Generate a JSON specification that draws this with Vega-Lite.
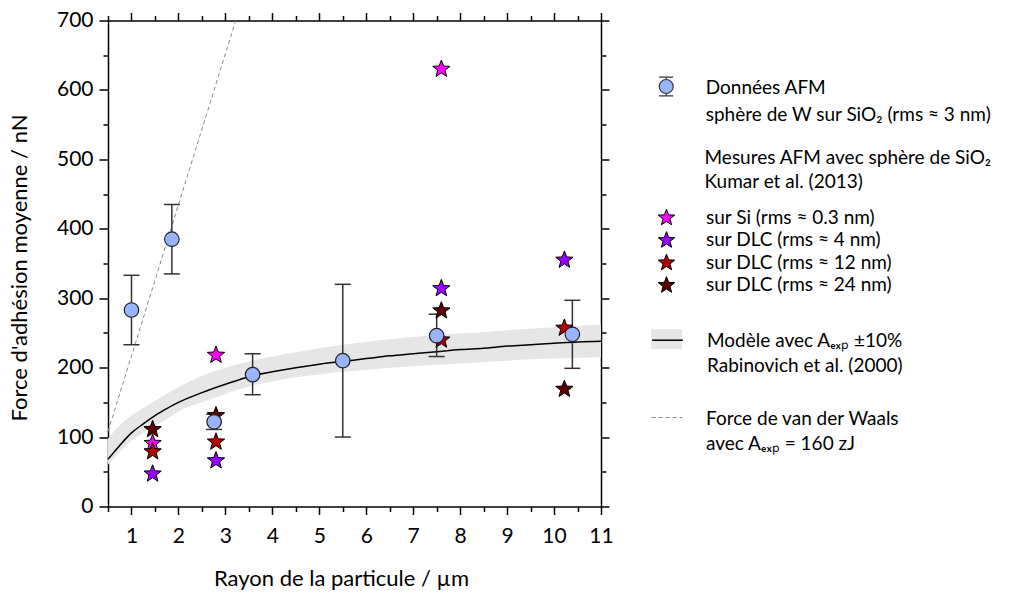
{
  "$schema": "https://vega.github.io/schema/vega-lite/v6.json",
  "width": 493,
  "height": 486,
  "autosize": {"type": "none"},
  "padding": {"left": 108, "top": 20.5, "right": 421, "bottom": 89.5},
  "background": "white",
  "config": {
    "view": {"stroke": null},
    "font": "Lato",
    "axis": {"domainColor": "#000", "domainWidth": 1.5, "tickColor": "#000", "tickWidth": 1.5, "labelFont": "Lato", "labelFontSize": 21, "labelColor": "#000", "titleFont": "Lato", "titleFontSize": 22, "titleFontWeight": "normal", "titleColor": "#000", "grid": false},
    "legend": {"labelFont": "Lato", "labelFontSize": 19, "labelColor": "#000", "titleFont": "Lato", "titleFontSize": 19, "titleFontWeight": "normal", "titleColor": "#000", "labelLimit": 0, "titleLimit": 0, "padding": 0, "orient": "none", "direction": "vertical"}
  },
  "datasets": {
    "model": [
      {"r": 0.5, "F": 68, "lo": 60, "hi": 98, "series": "model"},
      {"r": 0.75, "F": 88, "lo": 79, "hi": 117, "series": "model"},
      {"r": 1.0, "F": 106, "lo": 95, "hi": 131, "series": "model"},
      {"r": 1.25, "F": 119, "lo": 106, "hi": 142, "series": "model"},
      {"r": 1.5, "F": 131, "lo": 116, "hi": 152, "series": "model"},
      {"r": 1.75, "F": 141, "lo": 126, "hi": 162, "series": "model"},
      {"r": 2.0, "F": 150, "lo": 137, "hi": 172, "series": "model"},
      {"r": 2.5, "F": 164, "lo": 150, "hi": 188, "series": "model"},
      {"r": 3.0, "F": 176, "lo": 162, "hi": 200, "series": "model"},
      {"r": 3.5, "F": 187, "lo": 173, "hi": 209, "series": "model"},
      {"r": 4.0, "F": 194, "lo": 180, "hi": 216, "series": "model"},
      {"r": 4.5, "F": 200, "lo": 186, "hi": 222, "series": "model"},
      {"r": 5.0, "F": 205, "lo": 190, "hi": 228, "series": "model"},
      {"r": 5.5, "F": 209, "lo": 194, "hi": 233, "series": "model"},
      {"r": 6.0, "F": 213, "lo": 197, "hi": 237, "series": "model"},
      {"r": 6.5, "F": 217, "lo": 200, "hi": 241, "series": "model"},
      {"r": 7.0, "F": 220, "lo": 202, "hi": 244, "series": "model"},
      {"r": 7.5, "F": 223, "lo": 204, "hi": 247, "series": "model"},
      {"r": 8.0, "F": 226, "lo": 206, "hi": 249, "series": "model"},
      {"r": 8.5, "F": 228, "lo": 208, "hi": 251, "series": "model"},
      {"r": 9.0, "F": 231, "lo": 210, "hi": 254, "series": "model"},
      {"r": 9.5, "F": 233, "lo": 212, "hi": 256, "series": "model"},
      {"r": 10.0, "F": 235, "lo": 213, "hi": 258, "series": "model"},
      {"r": 10.5, "F": 237, "lo": 214, "hi": 260, "series": "model"},
      {"r": 11.0, "F": 238, "lo": 215, "hi": 262, "series": "model"}
    ],
    "vdw": [
      {"r": 0.5, "F": 108, "series": "vdW"},
      {"r": 3.22, "F": 700, "series": "vdW"}
    ],
    "afm": [
      {"r": 1.0, "F": 283, "lo": 233, "hi": 333, "source": "Données AFM"},
      {"r": 1.86, "F": 385, "lo": 335, "hi": 435, "source": "Données AFM"},
      {"r": 2.76, "F": 122, "lo": 111, "hi": 133, "source": "Données AFM"},
      {"r": 3.58, "F": 190, "lo": 161, "hi": 220, "source": "Données AFM"},
      {"r": 5.5, "F": 210, "lo": 100, "hi": 320, "source": "Données AFM"},
      {"r": 7.5, "F": 246, "lo": 216, "hi": 277, "source": "Données AFM"},
      {"r": 10.39, "F": 248, "lo": 199, "hi": 297, "source": "Données AFM"}
    ],
    "kumar": [
      {"r": 1.45, "F": 91, "surface": "sur Si (rms ≈ 0.3 nm)"},
      {"r": 2.8, "F": 218, "surface": "sur Si (rms ≈ 0.3 nm)"},
      {"r": 7.6, "F": 630, "surface": "sur Si (rms ≈ 0.3 nm)"},
      {"r": 1.45, "F": 47, "surface": "sur DLC (rms ≈ 4 nm)"},
      {"r": 2.8, "F": 66, "surface": "sur DLC (rms ≈ 4 nm)"},
      {"r": 7.6, "F": 314, "surface": "sur DLC (rms ≈ 4 nm)"},
      {"r": 10.22, "F": 355, "surface": "sur DLC (rms ≈ 4 nm)"},
      {"r": 1.45, "F": 79, "surface": "sur DLC (rms ≈ 12 nm)"},
      {"r": 2.8, "F": 93, "surface": "sur DLC (rms ≈ 12 nm)"},
      {"r": 7.6, "F": 240, "surface": "sur DLC (rms ≈ 12 nm)"},
      {"r": 10.22, "F": 257, "surface": "sur DLC (rms ≈ 12 nm)"},
      {"r": 1.45, "F": 111, "surface": "sur DLC (rms ≈ 24 nm)"},
      {"r": 2.8, "F": 131, "surface": "sur DLC (rms ≈ 24 nm)"},
      {"r": 7.6, "F": 282, "surface": "sur DLC (rms ≈ 24 nm)"},
      {"r": 10.22, "F": 169, "surface": "sur DLC (rms ≈ 24 nm)"}
    ]
  },
  "resolve": {
    "scale": {"fill": "independent", "stroke": "independent", "color": "independent"},
    "axis": {"x": "independent", "y": "independent"}
  },
  "layer": [
    {
      "data": {"name": "model"},
      "mark": {"type": "area", "interpolate": "monotone", "opacity": 1},
      "encoding": {
        "x": {"field": "r", "type": "quantitative", "scale": {"domain": [0.5, 11], "nice": false, "zero": false},
          "axis": {"orient": "bottom", "values": [1, 2, 3, 4, 5, 6, 7, 8, 9, 10, 11], "tickSize": 8, "labelPadding": 11, "labelFlush": false, "title": "Rayon de la particule / µm", "titlePadding": 22, "titleX": 233, "titleAlign": "center"}},
        "y": {"field": "lo", "type": "quantitative", "scale": {"domain": [0, 700], "nice": false, "zero": true},
          "axis": {"orient": "left", "values": [0, 100, 200, 300, 400, 500, 600, 700], "tickSize": 9, "labelPadding": 6, "labelFlush": false, "title": "Force d'adhésion moyenne / nN", "titlePadding": 25, "titleY": 247, "titleAlign": "center"}},
        "y2": {"field": "hi"},
        "fill": {"field": "series", "type": "nominal", "scale": {"range": ["#e6e6e6"]},
          "legend": {"legendX": 543, "legendY": 303.2, "title": null, "symbolType": "M-1,-0.65H1V0.65H-1Z", "symbolSize": 942, "symbolStrokeWidth": 0, "labelExpr": "''"}}
      }
    },
    {
      "data": {"name": "model"},
      "mark": {"type": "line", "interpolate": "monotone", "strokeWidth": 1.5},
      "encoding": {
        "x": {"field": "r", "type": "quantitative",
          "axis": {"orient": "bottom", "values": [0.5, 1.5, 2.5, 3.5, 4.5, 5.5, 6.5, 7.5, 8.5, 9.5, 10.5], "tickSize": 5, "labels": false, "domain": false, "title": null}},
        "y": {"field": "F", "type": "quantitative",
          "axis": {"orient": "left", "values": [50, 150, 250, 350, 450, 550, 650], "tickSize": 5, "labels": false, "domain": false, "title": null}},
        "stroke": {"field": "series", "type": "nominal", "scale": {"range": ["#000000"]},
          "legend": {"legendX": 543, "legendY": 303.2, "title": null, "symbolType": "stroke", "symbolSize": 942, "symbolStrokeWidth": 1.5, "labelOffset": 23, "labelBaseline": "top",
            "labelExpr": "['Modèle avec Aₑₓₚ ±10%', 'Rabinovich et al. (2000)']",
            "encode": {"labels": {"update": {"dy": {"value": -8}, "lineHeight": {"value": 25}}}}}}
      }
    },
    {
      "data": {"name": "vdw"},
      "mark": {"type": "line", "strokeDash": [4, 3], "strokeWidth": 1},
      "encoding": {
        "x": {"field": "r", "type": "quantitative",
          "axis": {"orient": "top", "values": [1, 2, 3, 4, 5, 6, 7, 8, 9, 10, 11], "tickSize": 8, "labels": false, "domain": true, "title": null}},
        "y": {"field": "F", "type": "quantitative",
          "axis": {"orient": "right", "values": [0, 100, 200, 300, 400, 500, 600, 700], "tickSize": 8, "labels": false, "domain": true, "title": null}},
        "stroke": {"field": "series", "type": "nominal", "scale": {"range": ["#888888"]},
          "legend": {"legendX": 543, "legendY": 381, "title": null, "symbolType": "stroke", "symbolSize": 942, "symbolStrokeWidth": 1, "symbolDash": [4, 3], "labelOffset": 23, "labelBaseline": "top",
            "labelExpr": "['Force de van der Waals', 'avec Aₑₓₚ = 160 zJ']",
            "encode": {"labels": {"update": {"dy": {"value": -8}, "lineHeight": {"value": 25}}}}}}
      }
    },
    {
      "data": {"name": "afm"},
      "mark": {"type": "rule", "strokeWidth": 1.5},
      "encoding": {
        "x": {"field": "r", "type": "quantitative",
          "axis": {"orient": "top", "values": [0.5, 1.5, 2.5, 3.5, 4.5, 5.5, 6.5, 7.5, 8.5, 9.5, 10.5], "tickSize": 5, "labels": false, "domain": false, "title": null}},
        "y": {"field": "lo", "type": "quantitative",
          "axis": {"orient": "right", "values": [50, 150, 250, 350, 450, 550, 650], "tickSize": 5, "labels": false, "domain": false, "title": null}},
        "y2": {"field": "hi"},
        "stroke": {"field": "source", "type": "nominal", "scale": {"range": ["#333333"]},
          "legend": {"legendX": 548.7, "legendY": 56.5, "title": null,
            "symbolType": "M-1,0A1,1,0,1,1,1,0A1,1,0,1,1,-1,0Z M-1,-1.35H1 M0,-1.35V-1 M-1,1.35H1 M0,1.35V1",
            "symbolSize": 196, "symbolFillColor": "#99b4ff", "symbolStrokeWidth": 1.2, "labelOffset": 30, "labelBaseline": "top",
            "labelExpr": "['Données AFM', 'sphère de W sur SiO₂ (rms ≈ 3 nm)']",
            "encode": {"labels": {"update": {"dy": {"value": -8}, "lineHeight": {"value": 27}}}, "symbols": {"update": {"fill": {"value": "#99b4ff"}}}}}}
      }
    },
    {
      "data": {"name": "afm"},
      "transform": [{"fold": ["lo", "hi"], "as": ["end", "val"]}],
      "mark": {"type": "tick", "orient": "horizontal", "size": 16, "thickness": 1.5, "color": "#333333", "opacity": 1},
      "encoding": {
        "x": {"field": "r", "type": "quantitative", "axis": null},
        "y": {"field": "val", "type": "quantitative", "axis": null}
      }
    },
    {
      "data": {"name": "kumar"},
      "mark": {"type": "point", "shape": "M0,-1L0.2469,-0.3398L0.9511,-0.309L0.3995,0.1298L0.5878,0.809L0,0.42L-0.5878,0.809L-0.3995,0.1298L-0.9511,-0.309L-0.2469,-0.3398Z", "filled": true, "size": 330, "stroke": "#000000", "strokeWidth": 1, "opacity": 1},
      "encoding": {
        "x": {"field": "r", "type": "quantitative", "axis": null},
        "y": {"field": "F", "type": "quantitative", "axis": null},
        "color": {"field": "surface", "type": "nominal",
          "scale": {"domain": ["sur Si (rms ≈ 0.3 nm)", "sur DLC (rms ≈ 4 nm)", "sur DLC (rms ≈ 12 nm)", "sur DLC (rms ≈ 24 nm)"], "range": ["#ff00ff", "#9900ff", "#b00000", "#5c0000"]},
          "legend": {"legendX": 549, "legendY": 128.8, "title": ["\u200b\u2003\u2003\u2002\u2002Mesures AFM avec sphère de SiO₂", "\u200b\u2003\u2003\u2002\u2002Kumar et al. (2013)"], "titleLineHeight": 24, "titlePadding": 16,
            "symbolType": "M0,-1L0.2469,-0.3398L0.9511,-0.309L0.3995,0.1298L0.5878,0.809L0,0.42L-0.5878,0.809L-0.3995,0.1298L-0.9511,-0.309L-0.2469,-0.3398Z",
            "symbolSize": 300, "symbolStrokeColor": "#000000", "symbolStrokeWidth": 1, "labelOffset": 30, "rowPadding": 0.5}}
      }
    },
    {
      "data": {"name": "afm"},
      "mark": {"type": "point", "shape": "circle", "filled": true, "color": "#99b4ff", "stroke": "#222222", "size": 210, "strokeWidth": 1.2, "opacity": 1},
      "encoding": {
        "x": {"field": "r", "type": "quantitative", "axis": null},
        "y": {"field": "F", "type": "quantitative", "axis": null}
      }
    }
  ]
}
